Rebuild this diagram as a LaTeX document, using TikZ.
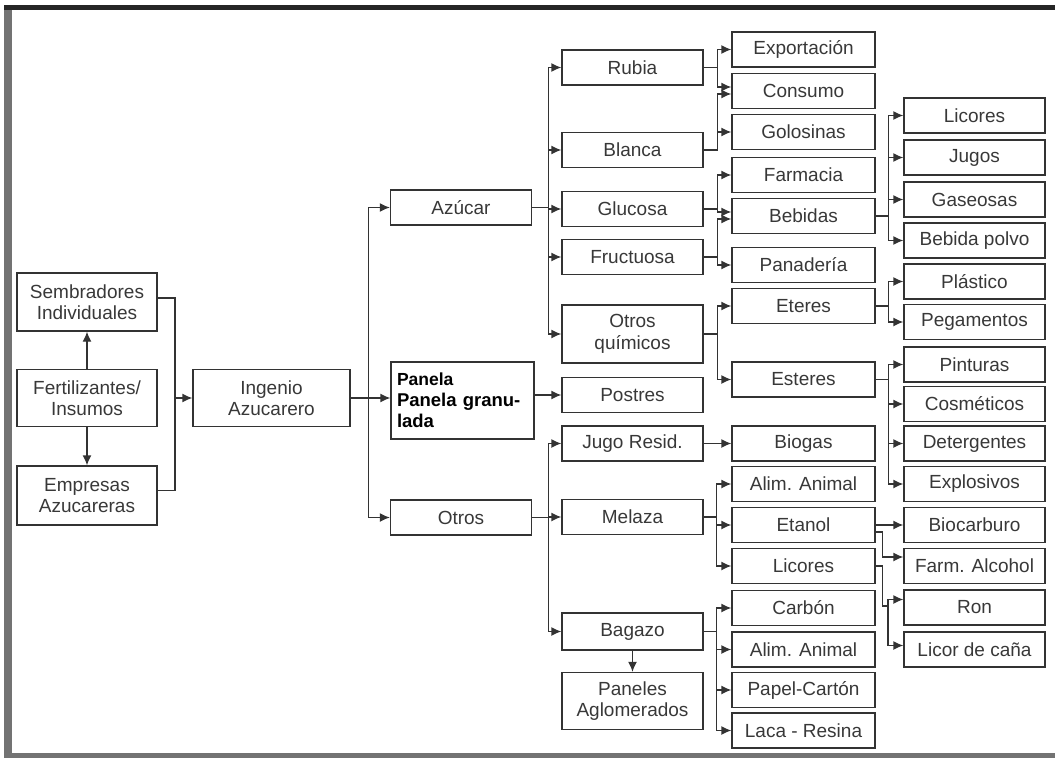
\documentclass[tikz,border=0pt]{standalone}
\usepackage{fontspec}
\setmainfont{Liberation Sans}
\usetikzlibrary{arrows.meta}

\begin{document}
\begin{tikzpicture}[x=1pt,y=-1pt,
    box/.style={draw=black!80, line width=1.3pt, text=black!78, align=center, inner sep=1pt,
      minimum height=35pt, font=\fontsize{19}{21.5}\selectfont},
    c1/.style={box, minimum width=140pt},
    c3/.style={box, minimum width=141pt},
    c4/.style={box, minimum width=141pt},
    c5/.style={box, minimum width=143pt},
    c6/.style={box, minimum width=141pt},
    tall/.style={minimum height=57pt},
    ln/.style={draw=black!80, line width=1.3pt},
    arr/.style={ln, -{Latex[length=10pt,width=9pt]}}]
    \useasboundingbox (0,0) rectangle (1055,758);
    % Frame
    \fill[black!55] (4,5) rectangle (12,758);
    \fill[black!85] (4,5) rectangle (1055,10);
    \fill[black!55] (12,753) rectangle (1055,758);

    % Producers
    \node[c1, minimum height=58pt] (sembradores) at (87,302) {Sembradores\\Individuales};
    \node[c1, tall] (fertil) at (87,398) {Fertilizantes/\\Insumos};
    \node[c1, minimum height=59pt] (empresas) at (87,495.5) {Empresas\\Azucareras};
    \node[box, tall, minimum width=157pt] (ingenio) at (271.5,398) {Ingenio\\Azucarero};

    % Main products
    \node[c3] (azucar) at (461,207.5) {Azúcar};
    \node[box, minimum width=143pt, minimum height=77pt, text width=131pt, align=left,
      text=black, font=\fontsize{18.5}{21}\selectfont\bfseries] (panela) at (462.5,400.5)
      {{\fontsize{17.5}{21}\selectfont Panela}\\Panela granu-\\lada};
    \node[c3] (otros) at (461,517.5) {Otros};

    % Second level
    \node[c4] (rubia) at (632.5,67.5) {Rubia};
    \node[c4] (blanca) at (632.5,150) {Blanca};
    \node[c4] (glucosa) at (632.5,209) {Glucosa};
    \node[c4] (fructuosa) at (632.5,257) {Fructuosa};
    \node[c4, minimum height=58pt] (quimicos) at (632.5,334) {Otros\\químicos};
    \node[c4] (postres) at (632.5,395) {Postres};
    \node[c4] (jugo) at (632.5,443.5) {Jugo Resid.};
    \node[c4] (melaza) at (632.5,517) {Melaza};
    \node[c4, minimum height=37pt] (bagazo) at (632.5,631.5) {Bagazo};
    \node[c4, tall] (paneles) at (632.5,701) {Paneles\\Aglomerados};

    % Third level
    \node[c5] (export) at (803.5,49.5) {Exportación};
    \node[c5] (consumo) at (803.5,91) {Consumo};
    \node[c5] (golosinas) at (803.5,132) {Golosinas};
    \node[c5] (farmacia) at (803.5,175) {Farmacia};
    \node[c5] (bebidas) at (803.5,216) {Bebidas};
    \node[c5] (panaderia) at (803.5,265) {Panadería};
    \node[c5] (eteres) at (803.5,306) {Eteres};
    \node[c5] (esteres) at (803.5,379.5) {Esteres};
    \node[c5] (biogas) at (803.5,443.5) {Biogas};
    \node[c5] (alim) at (803.5,484) {Alim. Animal};
    \node[c5] (etanol) at (803.5,525) {Etanol};
    \node[c5] (licores) at (803.5,566) {Licores};
    \node[c5] (carbon) at (803.5,608) {Carbón};
    \node[c5] (alimb) at (803.5,649.5) {Alim. Animal};
    \node[c5] (papel) at (803.5,690) {Papel-Cartón};
    \node[c5] (laca) at (803.5,730.5) {Laca - Resina};

    % Fourth level
    \node[c6] (licoresb) at (974.5,115.5) {Licores};
    \node[c6] (jugos) at (974.5,157.5) {Jugos};
    \node[c6] (gaseosas) at (974.5,199.5) {Gaseosas};
    \node[c6] (polvo) at (974.5,240.5) {Bebida polvo};
    \node[c6] (plastico) at (974.5,281.5) {Plástico};
    \node[c6] (pegamentos) at (974.5,322) {Pegamentos};
    \node[c6] (pinturas) at (974.5,364.5) {Pinturas};
    \node[c6] (cosmeticos) at (974.5,404) {Cosméticos};
    \node[c6] (detergentes) at (974.5,443.5) {Detergentes};
    \node[c6] (explosivos) at (974.5,484) {Explosivos};
    \node[c6] (biocarb) at (974.5,525) {Biocarburo};
    \node[c6] (farm) at (974.5,566) {Farm. Alcohol};
    \node[c6] (ron) at (974.5,607.5) {Ron};
    \node[c6] (licor) at (974.5,649.5) {Licor de caña};

    % Producers to the mill
    \coordinate (prodj) at (175,398);
    \draw[ln] ([yshift=4pt]sembradores.east) -| (prodj);
    \draw[ln] ([yshift=5pt]empresas.east) -| (prodj);
    \draw[arr] (prodj) -- (ingenio);
    \draw[arr] (fertil) -- (sembradores);
    \draw[arr] (fertil) -- (empresas);

    % Mill
    \draw[arr] (ingenio.east) -- ++(18,0) |- (azucar);
    \draw[arr] (ingenio.east) -- (ingenio.east -| panela.west);
    \draw[arr] (ingenio.east) -- ++(18,0) |- (otros);

    % Azucar
    \draw[arr] (azucar.east) -- ++(16,0) |- (rubia);
    \draw[arr] (azucar.east) -- ++(16,0) |- (blanca);
    \draw[arr] (azucar.east) -- ++(16,0) |- (glucosa);
    \draw[arr] (azucar.east) -- ++(16,0) |- (fructuosa);
    \draw[arr] (azucar.east) -- ++(16,0) |- (quimicos);

    % Panela
    \draw[arr] (panela.east |- postres) -- (postres);

    % Otros
    \draw[arr] (otros.east) -- ++(16,0) |- (jugo);
    \draw[arr] (otros.east) -- ++(16,0) |- (melaza);
    \draw[arr] (otros.east) -- ++(16,0) |- (bagazo);
    \draw[arr] (bagazo) -- (paneles);

    % Rubia, Blanca
    \draw[arr] (rubia.east) -- ++(14,0) |- (export);
    \draw[arr] (rubia.east) -- ++(14,0) |- ([yshift=4pt]consumo.west);
    \draw[arr] (blanca.east) -- ++(14,0) |- ([yshift=-3pt]consumo.west);
    \draw[arr] (blanca.east) -- ++(14,0) |- (golosinas);

    % Glucosa, Fructuosa
    \draw[arr] (glucosa.east) -- ++(14,0) |- (farmacia);
    \draw[arr] (glucosa.east) -- ++(14,0) |- ([yshift=4pt]bebidas.west);
    \draw[arr] (fructuosa.east) -- ++(14,0) |- ([yshift=-3pt]bebidas.west);
    \draw[arr] (fructuosa.east) -- ++(14,0) |- (panaderia);

    % Otros quimicos
    \draw[arr] (quimicos.east) -- ++(14,0) |- (eteres);
    \draw[arr] (quimicos.east) -- ++(14,0) |- (esteres);

    % Jugo residual
    \draw[arr] (jugo) -- (biogas);

    % Melaza
    \draw[arr] (melaza.east) -- ++(13,0) |- (alim);
    \draw[arr] (melaza.east) -- ++(13,0) |- (etanol);
    \draw[arr] (melaza.east) -- ++(13,0) |- (licores);

    % Bagazo
    \draw[arr] (bagazo.east) -- ++(13,0) |- (carbon);
    \draw[arr] (bagazo.east) -- ++(13,0) |- (alimb);
    \draw[arr] (bagazo.east) -- ++(13,0) |- (papel);
    \draw[arr] (bagazo.east) -- ++(13,0) |- (laca);

    % Bebidas
    \draw[arr] (bebidas.east) -- ++(13,0) |- (licoresb);
    \draw[arr] (bebidas.east) -- ++(13,0) |- (jugos);
    \draw[arr] (bebidas.east) -- ++(13,0) |- (gaseosas);
    \draw[arr] (bebidas.east) -- ++(13,0) |- (polvo);

    % Eteres, Esteres
    \draw[arr] (eteres.east) -- ++(13,0) |- (plastico);
    \draw[arr] (eteres.east) -- ++(13,0) |- (pegamentos);
    \draw[arr] (esteres.east) -- ++(13,0) |- (pinturas);
    \draw[arr] (esteres.east) -- ++(13,0) |- (cosmeticos);
    \draw[arr] (esteres.east) -- ++(13,0) |- (detergentes);
    \draw[arr] (esteres.east) -- ++(13,0) |- (explosivos);

    % Etanol
    \draw[arr] (etanol) -- (biocarb);
    \draw[arr] ([yshift=-7pt]etanol.east) -- ++(7,0) |- ([yshift=9pt]farm.west);

    % Licores
    \coordinate (licj) at (888,606);
    \draw[ln] (licores.east) -- ++(7,0) |- (licj);
    \draw[arr] (licj) |- ([yshift=8pt]ron.west);
    \draw[arr] (licj) |- ([yshift=4pt]licor.west);
\end{tikzpicture}
\end{document}
